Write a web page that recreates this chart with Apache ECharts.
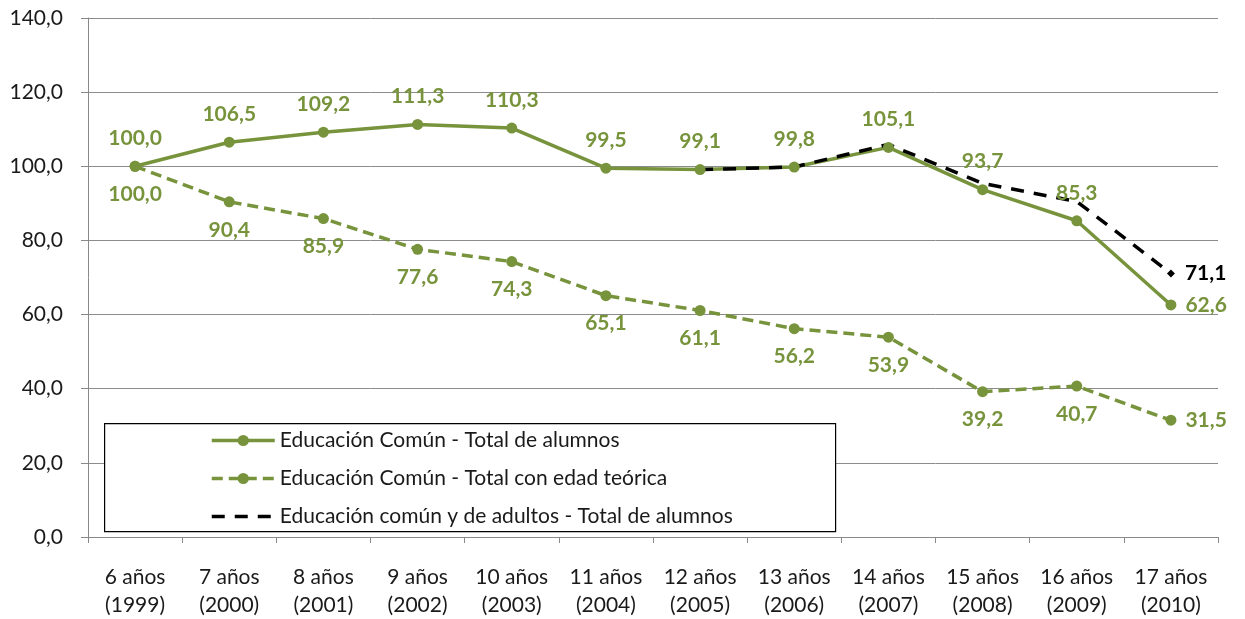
<!DOCTYPE html>
<html><head><meta charset="utf-8">
<script src="https://cdn.jsdelivr.net/npm/echarts@6/dist/echarts.min.js"></script>
<style>html,body{margin:0;padding:0;background:#fff}#c{width:1245px;height:619px}</style>
</head><body><div id="c"></div>
<script>
const categories = ['6 años\n(1999)','7 años\n(2000)','8 años\n(2001)','9 años\n(2002)','10 años\n(2003)','11 años\n(2004)','12 años\n(2005)','13 años\n(2006)','14 años\n(2007)','15 años\n(2008)','16 años\n(2009)','17 años\n(2010)'];
const seriesNames = ['Educación Común - Total de alumnos','Educación Común - Total con edad teórica','Educación común y de adultos - Total de alumnos'];
const totalAlumnos = [100.0,106.5,109.2,111.3,110.3,99.5,99.1,99.8,105.1,93.7,85.3,62.6];
const edadTeorica = [100.0,90.4,85.9,77.6,74.3,65.1,61.1,56.2,53.9,39.2,40.7,31.5];
const comunAdultos = [null,null,null,null,null,null,99.1,99.8,105.9,95.4,90.5,71.1];
const yTicks = {min:0,max:140,interval:20};

const green = '#77933C';
const fontFamily = 'Lato, "Open Sans", sans-serif';
const fs = 21;
const fmt = v => Number(v).toFixed(1).replace('.', ',');
const last = categories.length - 1;

const chart = echarts.init(document.getElementById('c'));
chart.setOption({
  animation:false,
  textStyle:{fontFamily},
  grid:{left:88,right:27,top:18,bottom:82},
  xAxis:{type:'category',data:categories,boundaryGap:true,
    axisLine:{lineStyle:{color:'#898989',width:1}},
    axisTick:{show:true,interval:0,length:6,lineStyle:{color:'#898989'}},
    axisLabel:{interval:0,color:'#1a1a1a',fontSize:fs,lineHeight:28,margin:26,fontFamily}
  },
  yAxis:{type:'value',min:yTicks.min,max:yTicks.max,interval:yTicks.interval,
    axisLine:{show:true,lineStyle:{color:'#898989'}},
    axisTick:{show:true,length:7,lineStyle:{color:'#898989'}},
    splitLine:{lineStyle:{color:'#8c8c8c',width:1}},
    axisLabel:{color:'#1a1a1a',fontSize:fs,margin:25,formatter:fmt,fontFamily}
  },
  graphic:[{type:'rect',left:104,top:423,z:50,shape:{width:731,height:108},style:{fill:'#fff',stroke:'#000',lineWidth:1.2}}],
  legend:{orient:'vertical',left:210,top:430,z:60,itemGap:17,itemWidth:63,itemHeight:14,padding:0,
    lineStyle:{width:3.5},
    textStyle:{fontSize:fs,color:'#1a1a1a',fontFamily},
    data:[{name:seriesNames[0]},{name:seriesNames[1]},{name:seriesNames[2],itemStyle:{opacity:0}}]},
  series:[
    {name:seriesNames[0],type:'line',symbol:'circle',symbolSize:11,
     lineStyle:{color:green,width:3.5},itemStyle:{color:green},
     label:{show:true,position:'top',distance:12,color:green,fontSize:fs,fontWeight:'bold',formatter:p=>fmt(p.value)},
     data:totalAlumnos.map((v,i)=>i===last?{value:v,label:{position:'right',distance:9}}:v)
    },
    {name:seriesNames[1],type:'line',symbol:'circle',symbolSize:11,
     lineStyle:{color:green,width:3.5,type:[11,6]},itemStyle:{color:green},
     label:{show:true,position:'bottom',distance:12,color:green,fontSize:fs,fontWeight:'bold',formatter:p=>fmt(p.value)},
     data:edadTeorica.map((v,i)=>i===last?{value:v,label:{position:'right',distance:9}}:v)
    },
    {name:seriesNames[2],type:'line',symbol:'none',connectNulls:false,
     lineStyle:{color:'#000',width:3.5,type:[13,10]},itemStyle:{color:'#000'},
     data:comunAdultos.map((v,i)=>i===last?{value:v,symbol:'diamond',symbolSize:8,
       label:{show:true,position:'right',distance:10,color:'#000',fontSize:fs,fontWeight:'bold',formatter:p=>fmt(p.value)}}:v)
    }
  ]
});
</script></body></html>
